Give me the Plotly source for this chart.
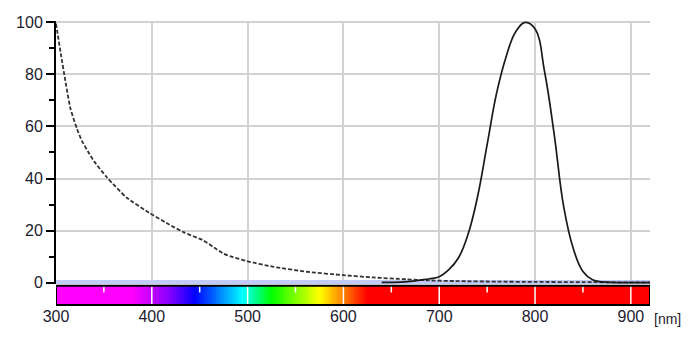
import numpy as np
import plotly.graph_objects as go

# emission spectrum (solid)
em_nm = [640, 660, 670, 680, 690, 700, 710, 720, 730, 740, 750, 760, 770, 780,
         790, 800, 810, 820, 830, 840, 850, 860, 870, 880, 900, 920]
em_val = [0.1, 0.2, 0.5, 1.0, 1.5, 2.3, 5, 9.5, 18.5, 33, 53, 73, 87, 96.5,
          100, 97.5, 81, 57, 29, 13, 4.3, 1.1, 0.3, 0.1, 0, 0]

# absorption spectrum (dashed)
ab_nm = [300, 305, 310, 315, 322, 327, 334, 340, 353, 374, 398, 415, 433, 454,
         465, 475, 485, 499, 527, 562, 600, 631, 666, 687, 720, 760, 800, 850, 920]
ab_val = [99.5, 88, 77, 67, 59, 54.5, 50, 46.5, 40.5, 32.6, 26.7, 23, 19.4, 16.2,
          13.5, 11.1, 9.8, 8.3, 6.1, 4.2, 2.9, 2.0, 1.3, 0.9, 0.6, 0.4, 0.3, 0.2, 0.1]

# visible spectrum colour stops for the bar
spec_nm = [300, 380, 420, 445, 495, 525, 575, 600, 625, 920]
spec_col = ["#ff00ff", "#ff00ff", "#8000ff", "#0000ff", "#00ffff", "#00ff00",
            "#ffff00", "#ff8000", "#ff0000", "#ff0000"]

x_ticks = [300, 400, 500, 600, 700, 800, 900]
x_minor = [350, 450, 550, 650, 750, 850]

FONT = "Arial, Liberation Sans, sans-serif"
TXT = "#1c1c30"

fig = go.Figure()

ramp = np.arange(300, 921)
colorscale = [[(n - 300) / 620, c] for n, c in zip(spec_nm, spec_col)]
fig.add_trace(go.Heatmap(x=ramp, y=[0.5], z=[ramp], colorscale=colorscale,
                         zmin=300, zmax=920, showscale=False, hoverinfo="skip",
                         xaxis="x", yaxis="y2"))

fig.add_trace(go.Scatter(x=ab_nm, y=ab_val, mode="lines",
                         line=dict(color="#333333", width=1.8, dash="4px,2px",
                                   shape="spline", smoothing=0.6),
                         showlegend=False))
fig.add_trace(go.Scatter(x=em_nm, y=em_val, mode="lines",
                         line=dict(color="#1a1a1a", width=1.7, shape="spline",
                                   smoothing=1.2),
                         showlegend=False))

shapes = []
# light strip just above the bar
shapes.append(dict(type="rect", xref="x", yref="y", x0=300, x1=920, y0=-0.5, y1=1.0,
                   fillcolor="#c2cbf8", line_width=0, layer="between"))
# white tick marks inside the bar
for t in x_ticks[1:]:
    shapes.append(dict(type="line", xref="x", yref="y2 domain", x0=t, x1=t, y0=0, y1=1,
                       line=dict(color="white", width=1.5)))
for t in x_minor:
    shapes.append(dict(type="line", xref="x", yref="y2 domain", x0=t, x1=t, y0=0.65, y1=1,
                       line=dict(color="white", width=1.5)))
# bar border
shapes.append(dict(type="rect", xref="x", yref="y2 domain", x0=300, x1=920, y0=0, y1=1,
                   line=dict(color="black", width=2)))

fig.update_layout(
    width=677, height=322,
    margin=dict(l=48, r=35, t=13, b=25),
    plot_bgcolor="white", paper_bgcolor="white",
    font=dict(family=FONT, size=16, color=TXT),
    shapes=shapes,
    xaxis=dict(range=[300, 920], anchor="y2", tickvals=x_ticks, ticks="",
               showgrid=True, gridcolor="#d2d2d2", gridwidth=2, automargin=False,
               zeroline=False, showline=False, tickfont=dict(size=16, color=TXT)),
    yaxis=dict(domain=[0.074, 1], range=[-0.5, 100.5], tickvals=[0, 20, 40, 60, 80, 100],
               showline=True, linecolor="black", linewidth=2, automargin=False,
               ticks="outside", ticklen=8, tickwidth=2, tickcolor="black",
               minor=dict(dtick=10, tick0=0, ticks="outside", ticklen=5,
                          tickwidth=2, tickcolor="black", showgrid=False),
               showgrid=True, gridcolor="#d2d2d2", gridwidth=2, zeroline=False,
               tickfont=dict(size=16, color=TXT)),
    yaxis2=dict(domain=[0, 0.068], range=[0, 1], showticklabels=False, automargin=False,
                showgrid=False, zeroline=False, anchor="x"),
    annotations=[dict(text="[nm]", xref="paper", yref="paper", x=1.0555, y=-0.0855,
                      xanchor="right", yanchor="bottom", showarrow=False,
                      font=dict(size=14, color=TXT))],
)

fig.write_html("out.html")
